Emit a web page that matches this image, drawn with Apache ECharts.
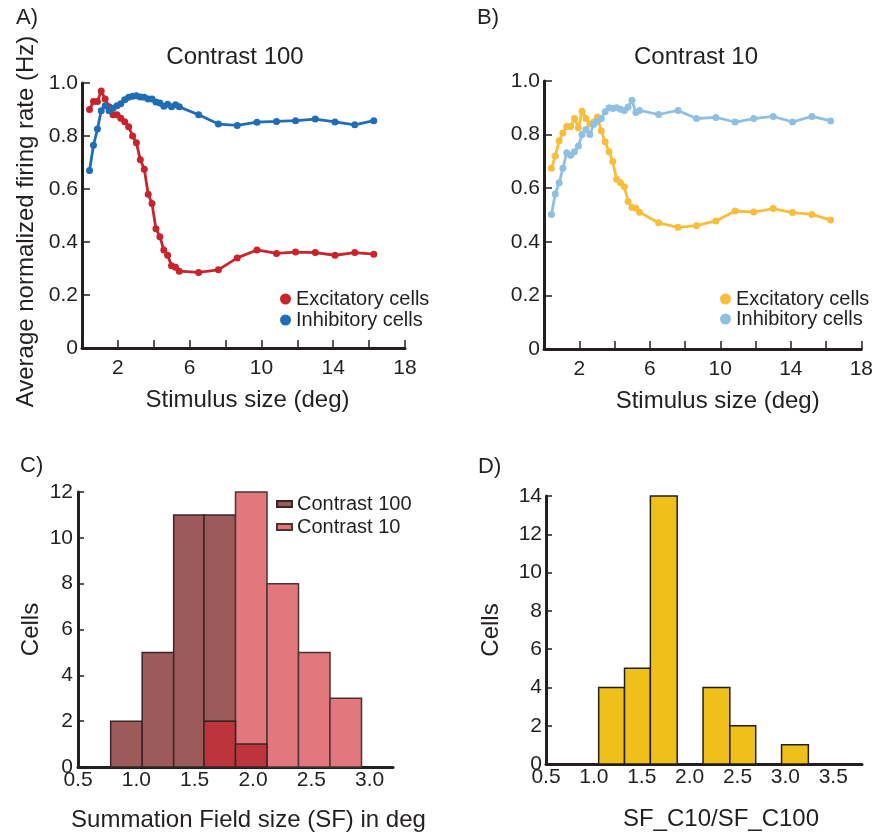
<!DOCTYPE html>
<html>
<head>
<meta charset="utf-8">
<script src="https://cdn.jsdelivr.net/npm/echarts@6/dist/echarts.min.js"></script>
<style>
  html, body { margin: 0; padding: 0; background: #fff; }
  #chart { width: 876px; height: 833px; }
</style>
</head>
<body>
<div id="chart"></div>
<script>
// stimulus sizes (deg), shared by panels A and B
const stimSize = [0.42, 0.64, 0.86, 1.07, 1.29, 1.51, 1.73, 1.95, 2.16, 2.38, 2.6, 2.82, 3.03, 3.25, 3.47, 3.69, 3.9, 4.12,
  4.34, 4.56, 4.77, 4.99, 5.21, 5.42, 6.5, 7.6, 8.65, 9.75, 10.84, 11.9, 13.0, 14.1, 15.2, 16.26];

// panel A, contrast 100
const excA = [0.90, 0.93, 0.93, 0.97, 0.94, 0.91, 0.88, 0.88, 0.867, 0.854, 0.835, 0.80, 0.775, 0.71, 0.675, 0.58, 0.545,
  0.45, 0.42, 0.37, 0.35, 0.31, 0.305, 0.29, 0.285, 0.295, 0.34, 0.37, 0.357, 0.362, 0.36, 0.35, 0.36, 0.354];
const inhA = [0.67, 0.765, 0.826, 0.895, 0.914, 0.895, 0.905, 0.914, 0.922, 0.937, 0.946, 0.95, 0.952, 0.947, 0.946, 0.94,
  0.94, 0.928, 0.925, 0.912, 0.92, 0.91, 0.918, 0.91, 0.88, 0.845, 0.84, 0.852, 0.855, 0.858, 0.864, 0.853, 0.842, 0.858];

// panel B, contrast 10
const excB = [0.674, 0.72, 0.777, 0.806, 0.83, 0.83, 0.86, 0.825, 0.887, 0.86, 0.84, 0.847, 0.866, 0.814, 0.773, 0.736, 0.70,
  0.633, 0.62, 0.605, 0.55, 0.528, 0.525, 0.51, 0.471, 0.454, 0.46, 0.478, 0.515, 0.511, 0.524, 0.509, 0.502, 0.481];
const inhB = [0.502, 0.578, 0.62, 0.674, 0.732, 0.723, 0.736, 0.757, 0.80, 0.819, 0.80, 0.839, 0.85, 0.86, 0.885, 0.90, 0.897,
  0.90, 0.895, 0.89, 0.903, 0.928, 0.882, 0.89, 0.875, 0.89, 0.86, 0.864, 0.847, 0.86, 0.868, 0.847, 0.868, 0.851];

// panel C, summation field histograms
const edgesC = [0.78, 1.05, 1.32, 1.58, 1.85, 2.12, 2.39, 2.66, 2.93];
const countC100 = [2, 5, 11, 11, 1, 0, 0, 0];
const countC10 = [0, 0, 0, 2, 12, 8, 5, 3];

// panel D, ratio histogram
const edgesD = [1.05, 1.32, 1.59, 1.87, 2.14, 2.42, 2.69, 2.96, 3.24];
const countD = [4, 5, 14, 0, 4, 2, 0, 1];

const FONT = '"Liberation Sans", Arial, Helvetica, sans-serif';
const INK = '#231f20';
const TICK = 21;
const NAME = 24;

function pairs(ys) {
  return stimSize.map((x, i) => [x, ys[i]]);
}
function bins(edges, counts) {
  return counts.map((c, i) => [edges[i], edges[i + 1], c]);
}

const chart = echarts.init(document.getElementById('chart'));

function label(margin, formatter, extra) {
  return Object.assign({ color: INK, fontSize: TICK, fontFamily: FONT, margin: margin, formatter: formatter }, extra);
}
function nameStyle(padLeft, padRight) {
  return { color: INK, fontSize: NAME, fontFamily: FONT, padding: [0, padRight || 0, 0, padLeft || 0] };
}

function axisBase(extra) {
  return Object.assign({
    type: 'value',
    splitLine: { show: false },
    axisLine: { lineStyle: { color: INK, width: 3 } },
    axisTick: { inside: true, length: 8, lineStyle: { color: INK, width: 1.5 } },
    nameTextStyle: nameStyle(0),
  }, extra);
}

function lineSeries(name, data, color, idx) {
  return {
    name: name, type: 'line', xAxisIndex: idx, yAxisIndex: idx,
    data: pairs(data),
    symbol: 'circle', symbolSize: 7, showSymbol: true,
    lineStyle: { color: color, width: 2.8 },
    itemStyle: { color: color },
    silent: true, animation: false,
  };
}

function histItem(params, api) {
  const h = api.value(2);
  if (!h) return null;
  const p0 = api.coord([api.value(0), h]);
  const p1 = api.coord([api.value(1), 0]);
  return {
    type: 'rect',
    shape: { x: p0[0], y: p0[1], width: p1[0] - p0[0], height: p1[1] - p0[1] },
    style: api.style(),
  };
}

function histSeries(name, data, fill, stroke, idx) {
  return {
    name: name, type: 'custom', xAxisIndex: idx, yAxisIndex: idx,
    renderItem: histItem, data: data,
    encode: { x: [0, 1], y: 2 },
    itemStyle: { color: fill, borderColor: stroke, borderWidth: 1.5 },
    silent: true, animation: false,
  };
}

const yRate = v => v === 0 ? '0' : v.toFixed(1);
const xStim = v => (v % 4 === 2 ? String(v) : '');
const xHalf = v => (Math.abs(v * 2 - Math.round(v * 2)) < 1e-6 ? v.toFixed(1) : '');

const overlap = countC100.map((c, i) => Math.min(c, countC10[i]));

const text = (t, x, y, size, align) => ({
  type: 'text', x: x, y: y,
  style: { text: t, fill: INK, font: size + 'px ' + FONT, textAlign: align || 'left', textVerticalAlign: 'middle' },
});

const legendText = { color: INK, fontSize: 20, fontFamily: FONT };

chart.setOption({
  animation: false,
  grid: [
    { left: 82, top: 83, width: 323, height: 265 },
    { left: 544, top: 81, width: 321, height: 268 },
    { left: 78, top: 492, width: 315, height: 275 },
    { left: 546, top: 496, width: 316, height: 268 },
  ],
  xAxis: [
    axisBase({ gridIndex: 0, min: 0, max: 18, interval: 2, axisLabel: label(10, xStim),
      name: 'Stimulus size (deg)', nameLocation: 'middle', nameGap: 40, nameTextStyle: nameStyle(8) }),
    axisBase({ gridIndex: 1, min: 0, max: 18, interval: 2, axisLabel: label(10, xStim),
      name: 'Stimulus size (deg)', nameLocation: 'middle', nameGap: 40, nameTextStyle: nameStyle(30) }),
    axisBase({ gridIndex: 2, min: 0.5, max: 3.2, interval: 0.5, axisTick: { show: false },
      axisLabel: label(3, xHalf, { showMaxLabel: false }),
      name: 'Summation Field size (SF) in deg', nameLocation: 'middle', nameGap: 41, nameTextStyle: nameStyle(26) }),
    axisBase({ gridIndex: 3, min: 0.5, max: 3.8, interval: 0.5, axisTick: { show: false },
      axisLabel: label(3, xHalf, { showMaxLabel: false }),
      name: 'SF_C10/SF_C100', nameLocation: 'middle', nameGap: 43, nameTextStyle: nameStyle(34) }),
  ],
  yAxis: [
    axisBase({ gridIndex: 0, min: 0, max: 1, interval: 0.2, axisLabel: label(4, yRate),
      name: 'Average normalized firing rate (Hz)', nameLocation: 'middle', nameGap: 44, nameTextStyle: nameStyle(0, 12) }),
    axisBase({ gridIndex: 1, min: 0, max: 1, interval: 0.2, axisLabel: label(4, yRate) }),
    axisBase({ gridIndex: 2, min: 0, max: 12, interval: 2, axisTick: { inside: true, length: 6, lineStyle: { color: INK, width: 1.5 } },
      axisLabel: label(5), name: 'Cells', nameLocation: 'middle', nameGap: 35 }),
    axisBase({ gridIndex: 3, min: 0, max: 14, interval: 2, axisTick: { inside: true, length: 6, lineStyle: { color: INK, width: 1.5 } },
      axisLabel: label(4), name: 'Cells', nameLocation: 'middle', nameGap: 43 }),
  ],
  legend: [
    { data: ['Excitatory cells (A)', 'Inhibitory cells (A)'], orient: 'vertical', left: 280, top: 289, padding: 0,
      icon: 'circle', itemWidth: 11, itemHeight: 11, itemGap: 1, itemTextGap: 7,
      formatter: n => n.replace(/ \(.\)$/, ''), textStyle: legendText, selectedMode: false },
    { data: ['Excitatory cells (B)', 'Inhibitory cells (B)'], orient: 'vertical', left: 720, top: 289, padding: 0,
      icon: 'circle', itemWidth: 11, itemHeight: 11, itemGap: 0, itemTextGap: 3,
      formatter: n => n.replace(/ \(.\)$/, ''), textStyle: legendText, selectedMode: false },
    { data: ['Contrast 100', 'Contrast 10'], orient: 'vertical', left: 276, top: 494, padding: 0,
      icon: 'rect', itemWidth: 15, itemHeight: 6, itemGap: 3, itemTextGap: 7,
      textStyle: legendText, selectedMode: false },
  ],
  graphic: [
    text('A)', 16, 18, 22),
    text('B)', 477, 18, 22),
    text('C)', 20, 466, 22),
    text('D)', 478, 467, 22),
    text('Contrast 100', 235, 57, 24, 'center'),
    text('Contrast 10', 696, 57, 24, 'center'),
  ],
  series: [
    lineSeries('Excitatory cells (A)', excA, '#c8242c', 0),
    lineSeries('Inhibitory cells (A)', inhA, '#1f6db5', 0),
    lineSeries('Excitatory cells (B)', excB, '#f9bd3c', 1),
    lineSeries('Inhibitory cells (B)', inhB, '#8fc0e2', 1),
    histSeries('Contrast 100', bins(edgesC, countC100), '#9c5a5a', '#3a2424', 2),
    histSeries('Contrast 10', bins(edgesC, countC10), '#e2777e', '#4a3434', 2),
    histSeries('overlap', bins(edgesC, overlap), '#bd343c', '#3a2424', 2),
    histSeries('ratio', bins(edgesD, countD), '#f0c01a', INK, 3),
  ],
});
</script>
</body>
</html>
